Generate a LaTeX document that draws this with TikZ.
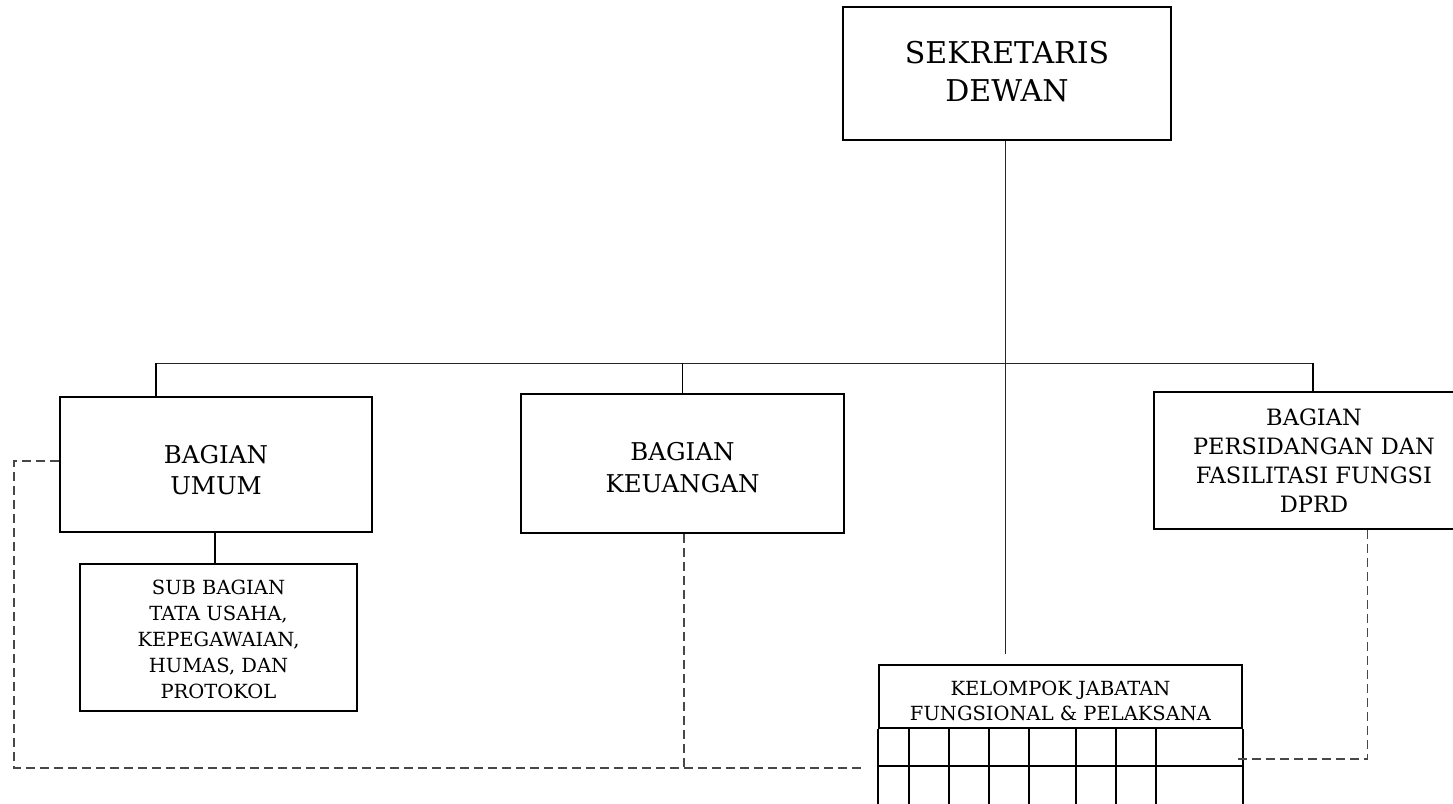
\documentclass[tikz,border=0pt]{standalone}
\usepackage{fontspec}
\setmainfont{DejaVu Serif}
\newcommand{\boxtext}[2]{\raisebox{#1}[\height][\depth]{\begin{tabular}{@{}c@{}}#2\end{tabular}}}
\tikzset{
  orgbox/.style={draw, line width=1.5pt, inner sep=0pt, align=center, text=black},
  thinline/.style={line width=1pt, draw=black!85},
  tickline/.style={line width=1.7pt, draw=black},
  dsh/.style={line width=1.3pt, draw=black!72, dash pattern=on 9pt off 5pt},
  gridline/.style={line width=1.7pt, draw=black}
}
\begin{document}
\begin{tikzpicture}[x=1pt, y=-1pt]
\clip (0,0) rectangle (1453,803);
\fill[white] (0,0) rectangle (1453,803);

\node[orgbox, minimum width=328pt, minimum height=133pt,
      font=\fontsize{30}{38}\selectfont] (sek) at (1007,73.5) {\boxtext{-1pt}{SEKRETARIS\\DEWAN}};

\node[orgbox, minimum width=312pt, minimum height=135pt,
      font=\fontsize{24.5}{31}\selectfont] (umum) at (216,464.5) {\boxtext{-8pt}{BAGIAN\\UMUM}};

\node[orgbox, minimum width=323pt, minimum height=139pt,
      font=\fontsize{24.5}{32}\selectfont] (keu) at (682.5,463.5) {\boxtext{-7pt}{BAGIAN\\KEUANGAN}};

\node[orgbox, minimum width=320pt, minimum height=137pt,
      font=\fontsize{22.5}{29}\selectfont] (pers) at (1314,460.5) {\boxtext{-2.5pt}{BAGIAN\\PERSIDANGAN DAN\\FASILITASI FUNGSI\\DPRD}};

\node[orgbox, minimum width=277pt, minimum height=147pt,
      font=\fontsize{19.5}{26}\selectfont] (sub) at (218.5,637.5) {\boxtext{-4pt}{SUB BAGIAN\\TATA USAHA,\\KEPEGAWAIAN,\\HUMAS, DAN\\PROTOKOL}};

\node[orgbox, minimum width=363pt, minimum height=63pt,
      font=\fontsize{19.5}{25}\selectfont] (kj) at (1060.5,696.5) {\boxtext{-6pt}{KELOMPOK JABATAN\\FUNGSIONAL \& PELAKSANA}};

% grid below the Kelompok header
\draw[gridline] (kj.south west) -- ++(0,90);
\draw[gridline] (kj.south east) -- ++(0,90);
\draw[gridline] (kj.south west |- 0,766) -- (kj.south east |- 0,766);
\foreach \cx in {909,949,989,1029,1076,1116,1156}
  \draw[gridline] (kj.south west -| \cx,0) -- ++(0,90);

% main vertical line
\coordinate (mainEnd) at (1005,654);
\draw[thinline] (sek.south -| mainEnd) -- (mainEnd);

% horizontal bus and ticks
\coordinate (busL) at (156,363);
\coordinate (busR) at (1313,363);
\draw[thinline] (busL) -- (busR);
\draw[tickline] (busL) -- (busL |- umum.north);
\draw[tickline] (keu.north |- busL) -- (keu.north);
\draw[tickline] (busR) -- (busR |- pers.north);

% umum to sub bagian
\draw[tickline] (umum.south -| 215,0) -- (sub.north -| 215,0);

% dashed connectors
\coordinate (dL) at (862,768);
\coordinate (dR) at (1235,759);
\draw[dsh] ([yshift=3.5pt]umum.west) -| (14,768) -- (dL);
\draw[dsh] ([xshift=1.5pt]keu.south) -- ([xshift=1.5pt]keu.south |- dL);
\draw[dsh] ([xshift=53.5pt]pers.south) |- (dR);
\end{tikzpicture}
\end{document}
